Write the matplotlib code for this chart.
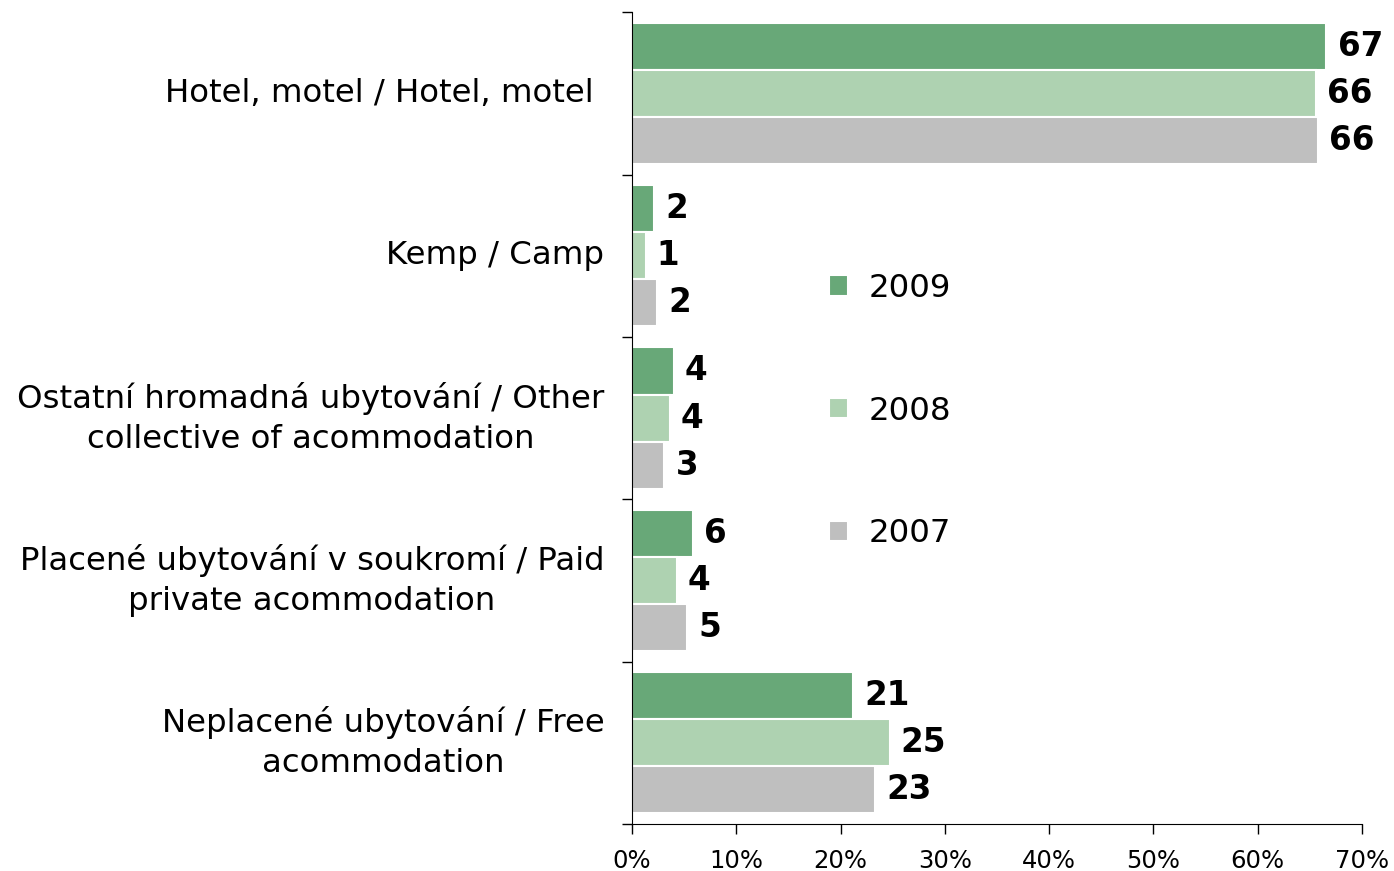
import numpy as np
import matplotlib
matplotlib.use("Agg")
import matplotlib.pyplot as plt

categories = [
    "Hotel, motel / Hotel, motel ",
    "Kemp / Camp",
    "Ostatní hromadná ubytování / Other\ncollective of acommodation",
    "Placené ubytování v soukromí / Paid\nprivate acommodation",
    "Neplacené ubytování / Free\nacommodation",
]
years = ["2009", "2008", "2007"]
values_2009 = [66.6, 2.1, 4.0, 5.8, 21.2]
values_2008 = [65.6, 1.3, 3.6, 4.3, 24.7]
values_2007 = [65.8, 2.4, 3.1, 5.3, 23.3]
colors = ["#68a878", "#aed2b1", "#bfbfbf"]

plt.rcParams['font.family'] = ['DejaVu Sans']

fig = plt.figure(figsize=(13.94, 8.71), dpi=100)
ax = fig.add_axes([0.4534, 0.054, 0.5236, 0.932])

y = np.arange(len(categories))
h = 0.29
series = [values_2009, values_2008, values_2007]
for i, (vals, year, col) in enumerate(zip(series, years, colors)):
    bars = ax.barh(y + (i - 1) * h, vals, height=h, color=col,
                   edgecolor='white', linewidth=1.5, label=year)
    ax.bar_label(bars, labels=[f"{round(v)}" for v in vals], padding=8,
                 fontsize=23.5, fontweight='bold')

ax.set_xlim(0, 70)
ax.set_ylim(len(categories) - 0.5, -0.5)
ax.set_xticks(np.arange(0, 71, 10))
ax.set_xticklabels([f"{t}%" for t in range(0, 71, 10)], fontsize=17.5)
ax.tick_params(axis='x', direction='out', length=7, width=1, pad=11)

ax.set_yticks(y)
ax.set_yticklabels(categories, fontsize=23.3, multialignment='center',
                   linespacing=1.37)
for lbl in ax.get_yticklabels():
    lbl.set_va('center')
ax.tick_params(axis='y', which='major', length=0, pad=20)
ax.set_yticks(np.arange(-0.5, len(categories), 1), minor=True)
ax.tick_params(axis='y', which='minor', direction='out', length=7, width=1)

ax.spines['top'].set_visible(False)
ax.spines['right'].set_visible(False)

ax.legend(loc='center left', bbox_to_anchor=(0.5947, 0.528),
          bbox_transform=fig.transFigure, frameon=False, fontsize=23.3,
          handlelength=0.59, handleheight=0.59, handletextpad=0.62,
          labelspacing=2.83, borderpad=0, borderaxespad=0)

fig.savefig("out.png", dpi=100)
